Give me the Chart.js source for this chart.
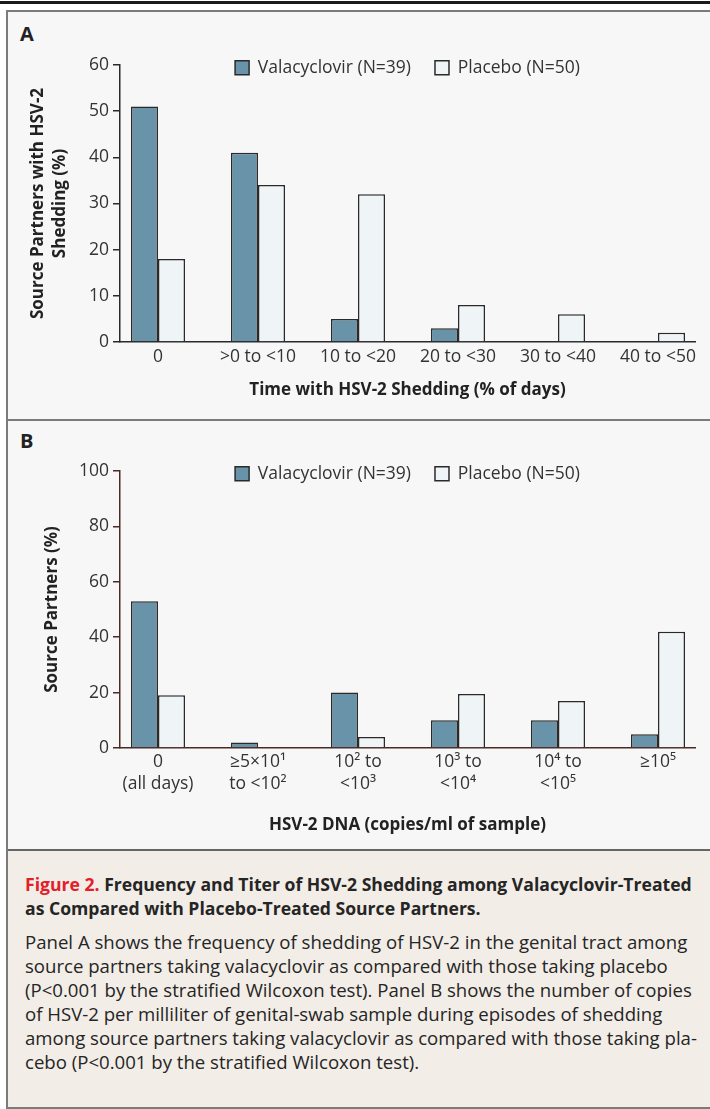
<!DOCTYPE html>
<html>
<head>
<meta charset="utf-8">
<script src="https://cdn.jsdelivr.net/npm/chart.js@4.4.1/dist/chart.umd.min.js"></script>
<style>
  body { margin:0; width:710px; height:1109px; overflow:hidden; background:#fff; position:relative; font-family:"Open Sans", "DejaVu Sans", sans-serif; }
  .rule { position:absolute; left:0; top:1px; width:710px; height:3px; background:#1a1a1a; }
  .frame { position:absolute; left:6px; top:10px; width:730px; height:1095px; border:2px solid #7b7b7b; background:#f7f7f7; }
  .sep { position:absolute; left:8px; top:419px; width:730px; height:2px; background:#7b7b7b; }
  .tag { position:absolute; left:20px; font-weight:bold; font-size:20px; color:#222; }
  canvas { position:absolute; left:0; }
  .caption { position:absolute; left:8px; top:849px; width:730px; height:256px; border-top:2px solid #666; background:#f2ede7; }
  .caption .txt { position:absolute; left:17px; top:21px; font-size:18.6px; line-height:24px; color:#252525; white-space:nowrap; }
  .caption .head { font-weight:bold; font-size:17.6px; margin-bottom:10px; }
  .caption .fig { color:#e3202a; }
</style>
</head>
<body>
<div class="rule"></div>
<div class="frame"></div>
<div class="sep"></div>
<div class="tag" style="top:20px">A</div>
<div class="tag" style="top:427px">B</div>
<canvas id="chartA" width="710" height="406" style="top:12px"></canvas>
<canvas id="chartB" width="710" height="426" style="top:422px"></canvas>
<div class="caption">
  <div class="txt">
    <div class="head"><span class="fig">Figure 2.</span> Frequency and Titer of HSV-2 Shedding among Valacyclovir-Treated<br>as Compared with Placebo-Treated Source Partners.</div>
    <div>Panel A shows the frequency of shedding of HSV-2 in the genital tract among<br>source partners taking valacyclovir as compared with those taking placebo<br>(P&lt;0.001 by the stratified Wilcoxon test). Panel B shows the number of copies<br>of HSV-2 per milliliter of genital-swab sample during episodes of shedding<br>among source partners taking valacyclovir as compared with those taking pla-<br>cebo (P&lt;0.001 by the stratified Wilcoxon test).</div>
  </div>
</div>
<script>
// Panel A data
const catsA = ['0', '>0 to <10', '10 to <20', '20 to <30', '30 to <40', '40 to <50'];
const valaA = [51, 41, 5, 3, 0, 0];
const placA = [18, 34, 32, 8, 6, 2];
const yTicksA = [0, 10, 20, 30, 40, 50, 60];

// Panel B data
const catsB = [['0', '(all days)'], ['≥5×10¹', 'to <10²'], ['10² to', '<10³'], ['10³ to', '<10⁴'], ['10⁴ to', '<10⁵'], ['≥10⁵']];
const valaB = [53, 2, 20, 10, 10, 5];
const placB = [19, 0, 4, 19.5, 17, 42];
const yTicksB = [0, 20, 40, 60, 80, 100];

const seriesNames = ['Valacyclovir (N=39)', 'Placebo (N=50)'];
const FONT = '"Open Sans", "DejaVu Sans", sans-serif';

// move the legend down so it sits beside the top tick
const legendDown = {
  id: 'legendDown',
  afterLayout(chart) {
    const lg = chart.legend;
    const dy = chart.chartArea.top + chart.options.plugins.legendDown.shift - lg.top;
    lg.top += dy;
    lg.bottom += dy;
  }
};

function drawPanel(id, cats, vala, plac, yTicks, o) {
  const toXY = arr => arr.map((v, i) => ({ x: i, y: v }));
  return new Chart(document.getElementById(id), {
    type: 'bar',
    data: {
      datasets: [
        { label: seriesNames[0], data: toXY(vala), backgroundColor: '#6893a9', borderColor: '#2a2a2a', borderWidth: 1.5 },
        { label: seriesNames[1], data: toXY(plac), backgroundColor: '#eff4f7', borderColor: '#2a2a2a', borderWidth: 1.5 }
      ]
    },
    options: {
      responsive: false,
      animation: false,
      categoryPercentage: 0.54,
      barPercentage: 1,
      layout: { padding: { top: o.padTop, right: 15, left: 0, bottom: 0 } },
      plugins: {
        tooltip: { enabled: false },
        legendDown: { shift: o.legendShift },
        legend: {
          position: 'top',
          fullSize: false,
          labels: {
            boxWidth: 14, boxHeight: 14, padding: 24, color: '#333',
            font: { family: FONT, size: 17.5 }
          }
        }
      },
      scales: {
        x: {
          type: 'linear', offset: false, min: -0.38, max: 5.37,
          afterBuildTicks: s => { s.ticks = cats.map((c, i) => ({ value: i })); },
          afterFit: s => { s.height = o.xHeight; },
          grid: { display: false, drawTicks: false },
          border: { display: true, color: o.axisColor, width: 1.5 },
          ticks: {
            autoSkip: false, maxRotation: 0, padding: o.xTickPad, color: '#333',
            font: { family: FONT, size: 17.5, lineHeight: 1.26 },
            callback: v => cats[v]
          },
          title: {
            display: true, text: o.xTitle, color: '#222',
            font: { family: FONT, size: 17, weight: 'bold', lineHeight: 1.3 },
            padding: { top: 0, bottom: o.xTitlePad }
          }
        },
        y: {
          min: yTicks[0], max: yTicks[yTicks.length - 1],
          afterBuildTicks: s => { s.ticks = yTicks.map(v => ({ value: v })); },
          afterFit: s => { s.width = 120; },
          grid: { drawOnChartArea: false, drawTicks: true, tickLength: 7, color: o.axisColor, lineWidth: 1.5 },
          border: { display: true, color: o.axisColor, width: 1.5 },
          ticks: { padding: 4, color: '#333', font: { family: FONT, size: 17.5 } },
          title: {
            display: true, text: o.yTitle, color: '#222',
            font: { family: FONT, size: 17, weight: 'bold', lineHeight: 1.3 },
            padding: { top: o.yTitlePad, bottom: 0 }
          }
        }
      }
    },
    plugins: [legendDown]
  });
}

drawPanel('chartA', catsA, valaA, placA, yTicksA, {
  padTop: 1.5, legendShift: -30, xHeight: 76, xTickPad: 4, xTitlePad: 17, yTitlePad: 27,
  axisColor: '#2a2a2a',
  xTitle: 'Time with HSV-2 Shedding (% of days)',
  yTitle: ['Source Partners with HSV-2', 'Shedding (%)']
});

drawPanel('chartB', catsB, valaB, placB, yTicksB, {
  padTop: -2.5, legendShift: -30, xHeight: 100, xTickPad: 3, xTitlePad: 12, yTitlePad: 41,
  axisColor: '#4a2a24',
  xTitle: 'HSV-2 DNA (copies/ml of sample)',
  yTitle: 'Source Partners (%)'
});
</script>
</body>
</html>
